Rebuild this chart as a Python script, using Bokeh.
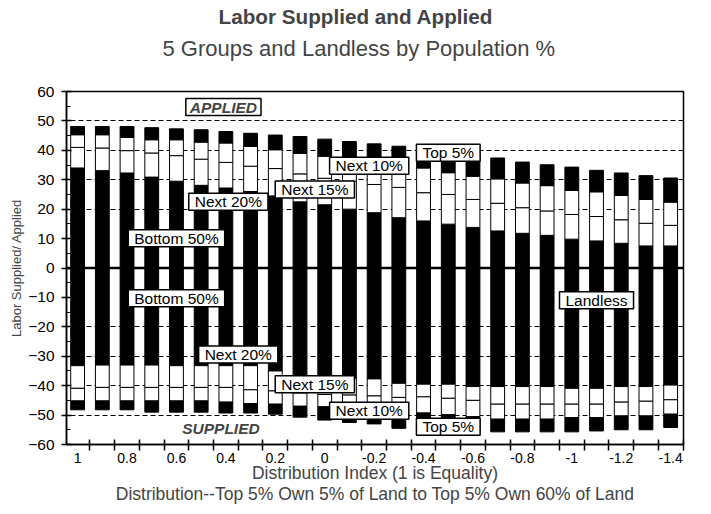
from bokeh.plotting import figure
from bokeh.models import Range1d, FixedTicker, Span, Label, Title, ColumnDataSource
from bokeh.embed import file_html
from bokeh.resources import INLINE

# Distribution index (1 is equality), one bar per step of 0.1
dist_index = [1.0, 0.9, 0.8, 0.7, 0.6, 0.5, 0.4, 0.3, 0.2, 0.1, 0.0, -0.1, -0.2,
              -0.3, -0.4, -0.5, -0.6, -0.7, -0.8, -0.9, -1.0, -1.1, -1.2, -1.3, -1.4]
x_tick_values = [1.0, 0.8, 0.6, 0.4, 0.2, 0.0, -0.2, -0.4, -0.6, -0.8, -1.0, -1.2, -1.4]
x_tick_labels = ["1", "0.8", "0.6", "0.4", "0.2", "0", "-0.2", "-0.4", "-0.6", "-0.8", "-1", "-1.2", "-1.4"]
y_ticks = [-60, -50, -40, -30, -20, -10, 0, 10, 20, 30, 40, 50, 60]
grid_levels = [-50, -40, -30, -20, 20, 30, 40, 50]

# Labor applied (positive) by group
applied_bottom50 = [34.0, 33.1, 32.3, 30.9, 29.5, 28.1, 27.2, 26.0, 24.5, 22.5, 21.5, 20.0, 18.8,
                    17.1, 16.0, 14.9, 13.8, 12.6, 11.8, 11.1, 9.8, 9.2, 8.4, 7.5, 7.5]
applied_next20 = [7.0, 7.7, 7.6, 8.2, 8.7, 8.9, 8.7, 8.6, 9.3, 9.5, 9.0, 9.5, 9.6,
                  10.3, 9.6, 10.1, 9.5, 9.4, 8.7, 8.3, 8.4, 8.3, 8.0, 7.7, 7.0]
applied_next15 = [4.3, 4.5, 4.5, 4.5, 5.4, 5.8, 6.6, 6.7, 6.4, 7.0, 7.5, 7.5, 7.6,
                  7.6, 8.4, 7.4, 7.9, 8.3, 8.4, 8.6, 8.2, 8.4, 8.3, 8.1, 7.9]
applied_top15 = [2.8, 2.8, 3.7, 4.1, 3.7, 4.2, 3.9, 4.5, 5.0, 5.7, 5.8, 6.0, 6.2,
                 6.4, 6.5, 7.1, 7.4, 7.1, 7.1, 7.1, 7.9, 7.3, 7.6, 8.1, 8.2]

# Labor supplied (negative) by group
supplied_bottom50 = [-33.2, -33.0, -33.0, -33.0, -33.2, -33.2, -33.2, -33.2, -35.0, -36.9, -37.0, -37.5, -37.7,
                     -39.2, -39.5, -39.5, -40.3, -40.3, -40.3, -40.3, -40.9, -40.9, -40.3, -40.3, -39.8]
supplied_next20 = [-7.7, -7.6, -7.6, -7.6, -7.4, -7.4, -7.4, -8.2, -6.8, -5.6, -6.0, -5.7, -5.8,
                   -4.8, -4.3, -4.8, -4.7, -6.0, -6.0, -6.0, -5.4, -5.4, -5.3, -5.0, -5.0]
supplied_next15 = [-4.3, -4.6, -4.6, -4.6, -4.6, -4.6, -5.0, -4.7, -4.5, -4.5, -4.2, -4.8, -5.0,
                   -5.0, -5.5, -5.6, -5.5, -5.1, -5.1, -5.1, -4.6, -4.6, -4.7, -5.0, -4.9]
supplied_top15 = [-3.0, -3.0, -3.0, -3.8, -3.8, -3.8, -3.7, -3.2, -3.4, -3.7, -4.5, -4.5, -4.5,
                  -5.5, -5.7, -5.6, -5.2, -4.3, -4.3, -4.3, -4.8, -4.5, -4.7, -4.7, -4.5]

# annotation texts with their anchor (distribution index, labor value)
annotations = [
    ("Bottom 50%", 0.6, 10.1), ("Next 20%", 0.39, 22.5), ("Next 15%", 0.04, 26.7),
    ("Next 10%", -0.18, 34.8), ("Top 5%", -0.5, 39.2),
    ("Bottom 50%", 0.6, -10.3), ("Next 20%", 0.35, -29.4), ("Next 15%", 0.04, -39.5),
    ("Next 10%", -0.18, -48.5), ("Top 5%", -0.5, -54.0), ("Landless", -1.1, -11.0),
]
footnote = "Distribution--Top 5% Own 5% of Land to Top 5% Own 60% of Land"

FONT = "Liberation Sans"

src = ColumnDataSource(dict(
    x=dist_index,
    ab=applied_bottom50, a20=applied_next20, a15=applied_next15, at=applied_top15,
    sb=supplied_bottom50, s20=supplied_next20, s15=supplied_next15, st=supplied_top15,
))

p = figure(width=695, height=506, output_backend="svg", toolbar_location=None,
           x_range=Range1d(1.045, -1.452), y_range=Range1d(-60, 60),
           min_border_left=0, min_border_right=12, min_border_top=0, min_border_bottom=0)
p.title = None

spacer = Title(text=" ", text_font_size="2px", standoff=22)
sub = Title(text="5 Groups and Landless by Population %", align="left", offset=96,
            text_font=FONT, text_font_size="22px", text_font_style="normal", standoff=9)
main = Title(text="Labor Supplied and Applied", align="left", offset=152,
             text_font=FONT, text_font_size="20.7px", text_font_style="bold", standoff=4)
p.add_layout(spacer, "above")
p.add_layout(sub, "above")
p.add_layout(main, "above")

colors = ["black", "white", "white", "black"]
p.vbar_stack(["ab", "a20", "a15", "at"], x="x", width=0.056, source=src,
             fill_color=colors, line_color="black", line_width=1)
p.vbar_stack(["sb", "s20", "s15", "st"], x="x", width=0.056, source=src,
             fill_color=colors, line_color="black", line_width=1)

p.add_layout(Span(location=0, dimension="width", line_color="black", line_width=2.5))

# grids
p.xgrid.visible = False
p.ygrid.ticker = FixedTicker(ticks=grid_levels)
p.ygrid.grid_line_color = "black"
p.ygrid.grid_line_dash = "5 3"
p.ygrid.grid_line_width = 1

p.outline_line_color = "black"
p.outline_line_width = 1.5

# axes
xa = p.xaxis[0]
bounds = [round(v + 0.05, 2) for v in dist_index] + [-1.45]
xa.ticker = FixedTicker(ticks=x_tick_values, minor_ticks=bounds)
xa.major_label_overrides = {v: t for v, t in zip(x_tick_values, x_tick_labels)}
xa.major_tick_in = 0
xa.major_tick_out = 0
xa.minor_tick_in = 5
xa.minor_tick_out = 6
xa.minor_tick_line_color = "black"
xa.minor_tick_line_width = 1.5
xa.axis_line_color = "black"
xa.axis_line_width = 1.5
xa.major_label_standoff = 2
xa.major_label_text_font = FONT
xa.major_label_text_font_size = "14px"
xa.major_label_text_color = "black"
xa.axis_label = "Distribution Index (1 is Equality)\n" + footnote
xa.axis_label_text_font = FONT
xa.axis_label_text_font_size = "17.5px"
xa.axis_label_text_font_style = "normal"
xa.axis_label_text_line_height = 1.05
xa.axis_label_standoff = -3

ya = p.yaxis[0]
ya.ticker = FixedTicker(ticks=y_ticks, minor_ticks=[v + 5 for v in y_ticks[:-1]])
ya.major_tick_in = 5
ya.major_tick_out = 5
ya.minor_tick_in = 4
ya.minor_tick_out = 0
ya.major_tick_line_width = 1.5
ya.axis_line_width = 1.5
ya.major_label_standoff = 7
ya.major_label_text_font = FONT
ya.major_label_text_font_size = "15.5px"
ya.major_label_text_color = "black"
ya.axis_label = "Labor Supplied/ Applied"
ya.axis_label_text_font = FONT
ya.axis_label_text_font_size = "13px"
ya.axis_label_text_font_style = "normal"
ya.axis_label_standoff = 1
p.add_layout(Title(text=" ", text_font_size="2px", standoff=2), "left")

for text, x, y in annotations:
    p.add_layout(Label(x=x, y=y, text=text, text_align="center", text_baseline="middle",
                       text_font=FONT, text_font_size="15.5px", text_color="black",
                       background_fill_color="white", border_line_color="black",
                       border_line_width=1.5, padding=(6, 0)))

p.add_layout(Label(x=0.41, y=54.7, text="APPLIED", text_align="center", text_baseline="middle",
                   text_font=FONT, text_font_size="15.5px", text_font_style="bold italic",
                   background_fill_color="white", border_line_color="black",
                   border_line_width=1.5, padding=(4, 0)))
p.add_layout(Label(x=0.42, y=-54.4, text="SUPPLIED", text_align="center", text_baseline="middle",
                   text_font=FONT, text_font_size="15.5px", text_font_style="bold italic",
                   background_fill_color="white", padding=(4, 0)))

open("out.html", "w").write(file_html(p, INLINE))
